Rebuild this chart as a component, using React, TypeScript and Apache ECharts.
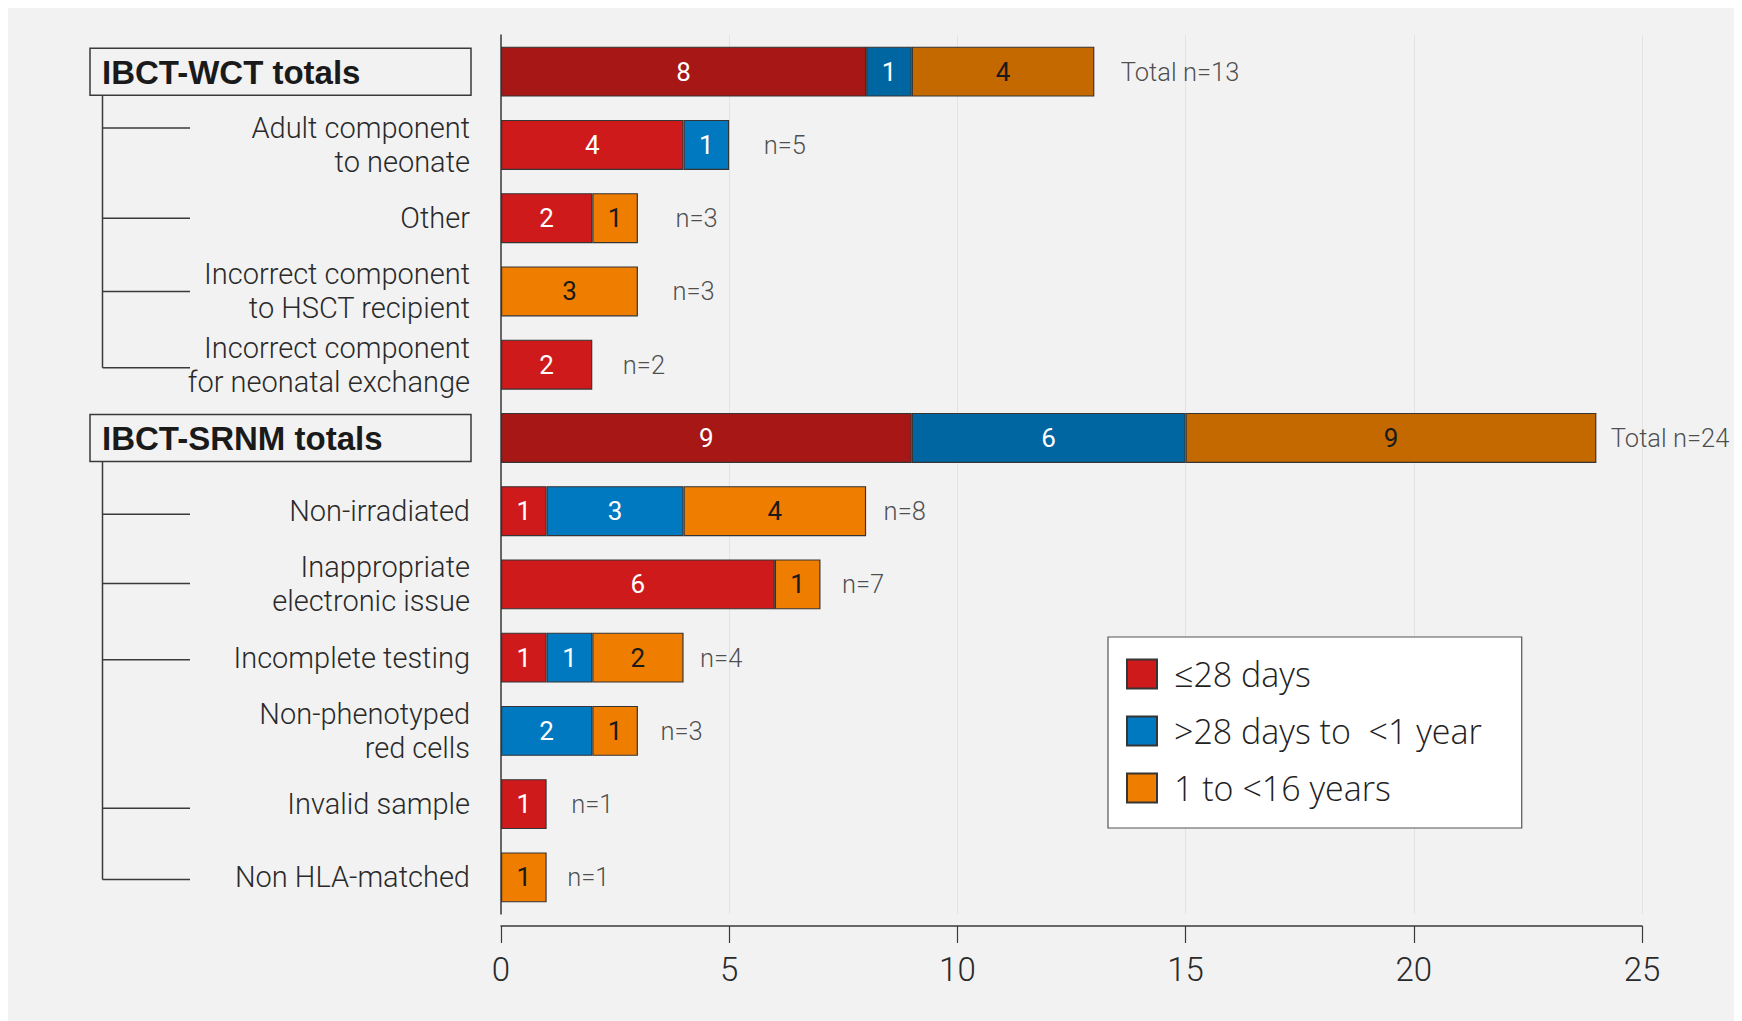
import React, { useEffect, useRef } from "react";
import * as echarts from "echarts";

// ---------- data ----------
const categories = [
  "IBCT-WCT totals",
  "Adult component\nto neonate",
  "Other",
  "Incorrect component\nto HSCT recipient",
  "Incorrect component\nfor neonatal exchange",
  "IBCT-SRNM totals",
  "Non-irradiated",
  "Inappropriate\nelectronic issue",
  "Incomplete testing",
  "Non-phenotyped\nred cells",
  "Invalid sample",
  "Non HLA-matched",
];
const totalRows = ["IBCT-WCT totals", "IBCT-SRNM totals"];
const seriesNames = ["≤28 days", ">28 days to  <1 year", "1 to <16 years"];
const upTo28Days = [8, 4, 2, 0, 2, 9, 1, 6, 1, 0, 1, 0];
const days28To1Year = [1, 1, 0, 0, 0, 6, 3, 0, 1, 2, 0, 0];
const years1To16 = [4, 0, 1, 3, 0, 9, 4, 1, 2, 1, 0, 1];
const xMin = 0;
const xMax = 25;
const xInterval = 5;

// ---------- styles ----------
const COLORS = ["#cf1a1b", "#0079c1", "#ef7d00"];
const TOTAL_COLORS = ["#a71716", "#0066a1", "#c46800"];
const LABEL_COLORS = ["#ffffff", "#ffffff", "#1a1a1a"];
const nLabelGap = [26, 34, 37, 34, 30, 14, 17, 21, 16, 22, 24, 20];
const branchShift: (number | null)[] = [null, -17, 0, 0, 3, null, 3, -1, 2, null, 4, 2];
const FONT = "Roboto";

export default function App() {
  const ref = useRef<HTMLDivElement>(null);

  useEffect(() => {
    document.documentElement.style.overflow = "hidden";
    document.body.style.overflow = "hidden";
    if (!ref.current) return;
    const chart = echarts.init(ref.current, null, { renderer: "svg" });

    const seriesData = [upTo28Days, days28To1Year, years1To16];
    const totals = categories.map((_, i) =>
      seriesData.reduce((s, arr) => s + arr[i], 0)
    );

    const barSeries = seriesData.map((arr, si) => ({
      name: seriesNames[si],
      type: "bar",
      stack: "all",
      barWidth: 50,
      itemStyle: {
        color: COLORS[si],
        borderColor: "#353535",
        borderWidth: 1.2,
      },
      label: {
        show: true,
        position: "inside",
        color: LABEL_COLORS[si],
        fontSize: 26,
        fontFamily: FONT,
        fontWeight: 400,
      },
      data: arr.map((v, i) => {
        const isTotal = totalRows.includes(categories[i]);
        return {
          value: v === 0 ? null : v,
          itemStyle: isTotal ? { color: TOTAL_COLORS[si] } : undefined,
        };
      }),
    }));

    const nSeries = {
      name: "n",
      type: "scatter",
      symbolSize: 1,
      itemStyle: { color: "rgba(0,0,0,0)" },
      silent: true,
      data: categories.map((c, i) => ({
        value: [totals[i], i],
        label: {
          show: true,
          position: "right",
          distance: nLabelGap[i],
          formatter: (totalRows.includes(c) ? "Total n=" : "n=") + totals[i],
          fontSize: 25.5,
          fontFamily: FONT,
          fontWeight: 300,
          color: "#222222",
        },
      })),
    };

    const option: any = {
      animation: false,
      backgroundColor: "#f2f2f2",
      grid: { left: 493, top: 27, width: 1141, height: 879 },
      legend: {
        data: seriesNames,
        orient: "vertical",
        left: 1100,
        top: 629,
        padding: [20, 40, 23, 18],
        itemWidth: 30,
        itemHeight: 29,
        itemGap: 23,
        icon: "rect",
        backgroundColor: "#ffffff",
        borderColor: "#555555",
        borderWidth: 1.2,
        selectedMode: false,
        textStyle: {
          fontSize: 34,
          lineHeight: 29,
          fontFamily: "'Open Sans'",
          fontWeight: 300,
          color: "#222222",
          padding: [0, 0, 0, 12],
        },
      },
      xAxis: {
        type: "value",
        min: xMin,
        max: xMax,
        interval: xInterval,
        position: "bottom",
        offset: 12,
        axisLine: { show: true, lineStyle: { color: "#3a3a3a", width: 1.5 } },
        axisTick: { show: true, length: 17, lineStyle: { color: "#3a3a3a", width: 1.2 } },
        axisLabel: {
          fontSize: 33,
          margin: 27,
          fontFamily: FONT,
          fontWeight: 300,
          color: "#2a2a2a",
        },
        splitLine: { show: true, lineStyle: { color: "#e3e3e3", width: 1 } },
      },
      yAxis: {
        type: "category",
        inverse: true,
        data: categories,
        axisLine: { show: true, lineStyle: { color: "#3a3a3a", width: 1.5 } },
        axisTick: { show: false },
        axisLabel: {
          margin: 31,
          fontSize: 29,
          lineHeight: 34,
          fontFamily: FONT,
          fontWeight: 300,
          color: "#2a2a2a",
          formatter: (v: string) => (totalRows.includes(v) ? "" : v),
        },
      },
      series: [...barSeries, nSeries],
    };

    chart.setOption(option);

    // header boxes and tree lines, positioned from the category axis
    const rowY = (i: number) =>
      (chart.convertToPixel({ gridIndex: 0 }, [0, i]) as number[])[1];
    const graphics: any[] = [];
    const boxX = 82;
    const boxW = 381;
    const boxH = 47;
    const treeX = 94.5;
    const branchEnd = 182;
    const headerIdx = categories
      .map((c, i) => (totalRows.includes(c) ? i : -1))
      .filter((i) => i >= 0);
    headerIdx.forEach((h, gi) => {
      const cy = rowY(h);
      const end = gi + 1 < headerIdx.length ? headerIdx[gi + 1] : categories.length;
      graphics.push({
        type: "rect",
        shape: { x: boxX, y: cy - boxH / 2, width: boxW, height: boxH },
        style: { fill: "#f2f2f2", stroke: "#3a3a3a", lineWidth: 1.5 },
      });
      graphics.push({
        type: "text",
        x: boxX + 12,
        y: cy + 1,
        style: {
          text: categories[h],
          font: "bold 33px 'Liberation Sans', Arial, sans-serif",
          fill: "#1a1a1a",
          verticalAlign: "middle",
          align: "left",
        },
      });
      let lastY = cy + boxH / 2;
      for (let i = h + 1; i < end; i++) {
        const sh = branchShift[i];
        if (sh === null || sh === undefined) continue;
        const by = rowY(i) + sh;
        lastY = by;
        graphics.push({
          type: "line",
          shape: { x1: treeX, y1: by, x2: branchEnd, y2: by },
          style: { stroke: "#3a3a3a", lineWidth: 1.5 },
        });
      }
      graphics.push({
        type: "line",
        shape: { x1: treeX, y1: cy + boxH / 2, x2: treeX, y2: lastY },
        style: { stroke: "#3a3a3a", lineWidth: 1.5 },
      });
    });
    chart.setOption({ graphic: graphics });

    return () => chart.dispose();
  }, []);

  return (
    <div
      ref={ref}
      style={{ width: 1728, height: 1013, background: "#f2f2f2" }}
    />
  );
}
